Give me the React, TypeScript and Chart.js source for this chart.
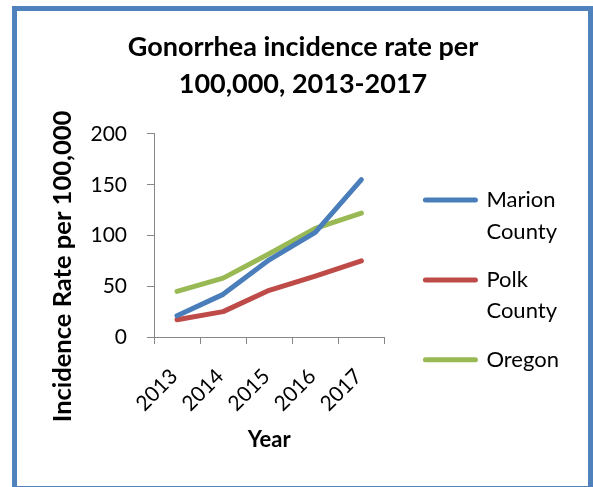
import React, { useEffect, useRef } from 'react';
import { Chart, registerables } from 'chart.js';

Chart.register(...registerables);

const years = ['2013', '2014', '2015', '2016', '2017'];
const marionCounty = [21, 42, 76, 103, 155];
const polkCounty = [17, 25, 46, 60, 75];
const oregonState = [45, 58, 82, 107, 122];
const seriesLabels = [['Marion', 'County'], ['Polk', 'County'], ['Oregon']];
const seriesColors = ['#4A7EBB', '#BE4B48', '#98B954'];
const yMin = 0;
const yMax = 200;
const yStep = 50;
const chartTitle = ['Gonorrhea incidence rate per', '100,000, 2013-2017'];
const yAxisTitle = 'Incidence Rate per 100,000';
const xAxisTitle = 'Year';

const FONT = 'Lato, "Open Sans", sans-serif';
const AXIS_GRAY = '#868686';

export default function App() {
  const ref = useRef<HTMLCanvasElement | null>(null);

  useEffect(() => {
    if (!ref.current) return;
    const seriesValues = [marionCounty, polkCounty, oregonState];
    const chart = new Chart(ref.current, {
      type: 'line',
      data: {
        labels: years,
        datasets: seriesValues.map((vals, i) => ({
          label: seriesLabels[i].join(' '),
          data: vals,
          borderColor: seriesColors[i],
          backgroundColor: seriesColors[i],
          borderWidth: 5,
          pointRadius: 0,
          pointHoverRadius: 0,
          tension: 0,
          borderJoinStyle: 'round' as const,
          borderCapStyle: 'round' as const,
          fill: false,
        })),
      },
      options: {
        responsive: false,
        animation: false,
        events: [],
        layout: { padding: { top: 10, left: 37, right: 24, bottom: 0 } },
        plugins: {
          tooltip: { enabled: false },
          title: {
            display: true,
            text: chartTitle,
            color: '#000',
            font: { family: FONT, size: 27, weight: 'bold', lineHeight: 1.37 },
            padding: { top: 18.5, bottom: 31.5 },
          },
          legend: {
            display: true,
            position: 'right',
            align: 'start',
            maxWidth: 240,
            title: {
              display: true,
              text: ' ',
              font: { size: 10, lineHeight: 1 },
              padding: { top: 152, bottom: 0 },
            },
            labels: {
              color: '#000',
              font: { family: FONT, size: 22, lineHeight: 1.43 },
              padding: 17,
              usePointStyle: true,
              pointStyleWidth: 50,
              boxHeight: 5,
              generateLabels: (c: any) =>
                c.data.datasets.map((ds: any, i: number) => ({
                  text: seriesLabels[i],
                  fillStyle: ds.borderColor,
                  strokeStyle: ds.borderColor,
                  lineWidth: 5,
                  lineCap: 'round',
                  pointStyle: 'line',
                  hidden: false,
                  datasetIndex: i,
                  fontColor: '#000',
                })),
            },
          },
        },
        scales: {
          x: {
            type: 'category',
            offset: true,
            grid: {
              display: true,
              drawOnChartArea: false,
              drawTicks: true,
              offset: true,
              tickLength: 7,
              color: AXIS_GRAY,
            },
            border: { display: true, color: AXIS_GRAY, width: 1 },
            ticks: {
              autoSkip: false,
              minRotation: 45,
              maxRotation: 45,
              padding: 20,
              labelOffset: -3,
              color: '#000',
              font: { family: FONT, size: 21 },
            },
            title: {
              display: true,
              text: xAxisTitle,
              color: '#000',
              font: { family: FONT, size: 22, weight: 'bold', lineHeight: 1.2 },
              padding: { top: 0, bottom: 34 },
            },
            afterFit: (s: any) => {
              s.height = 150;
            },
          },
          y: {
            type: 'linear',
            position: 'left',
            min: yMin,
            max: yMax,
            grid: {
              display: true,
              drawOnChartArea: false,
              drawTicks: true,
              tickLength: 7,
              color: AXIS_GRAY,
            },
            border: { display: true, color: AXIS_GRAY, width: 1 },
            ticks: {
              stepSize: yStep,
              padding: 20,
              color: '#000',
              font: { family: FONT, size: 21 },
            },
            title: {
              display: true,
              text: yAxisTitle + '          ',
              color: '#000',
              font: { family: FONT, size: 25.5, weight: 'bold', lineHeight: 1.2 },
              padding: { top: 10, bottom: 0 },
            },
            afterFit: (s: any) => {
              s.width = 117;
            },
          },
          gap: {
            type: 'linear',
            position: 'right',
            display: true,
            grid: { display: false },
            border: { display: false },
            ticks: { display: false },
            afterFit: (s: any) => {
              s.width = 24;
            },
          },
        },
      },
    } as any);
    let alive = true;
    if ((document as any).fonts && (document as any).fonts.ready) {
      (document as any).fonts.ready.then(() => {
        if (alive) chart.update();
      });
    }
    return () => {
      alive = false;
      chart.destroy();
    };
  }, []);

  return (
    <div
      style={{
        position: 'fixed',
        left: 0,
        top: 0,
        width: 593,
        height: 487,
        background: '#fff',
        overflow: 'hidden',
      }}
    >
      <div
        style={{
          position: 'absolute',
          left: 12,
          top: 6,
          width: 581,
          height: 485,
          border: '5px solid #4F81BD',
          boxSizing: 'border-box',
        }}
      />
      <canvas
        ref={ref}
        width={593}
        height={487}
        style={{ position: 'absolute', left: 0, top: 0, width: 593, height: 487 }}
      />
    </div>
  );
}
